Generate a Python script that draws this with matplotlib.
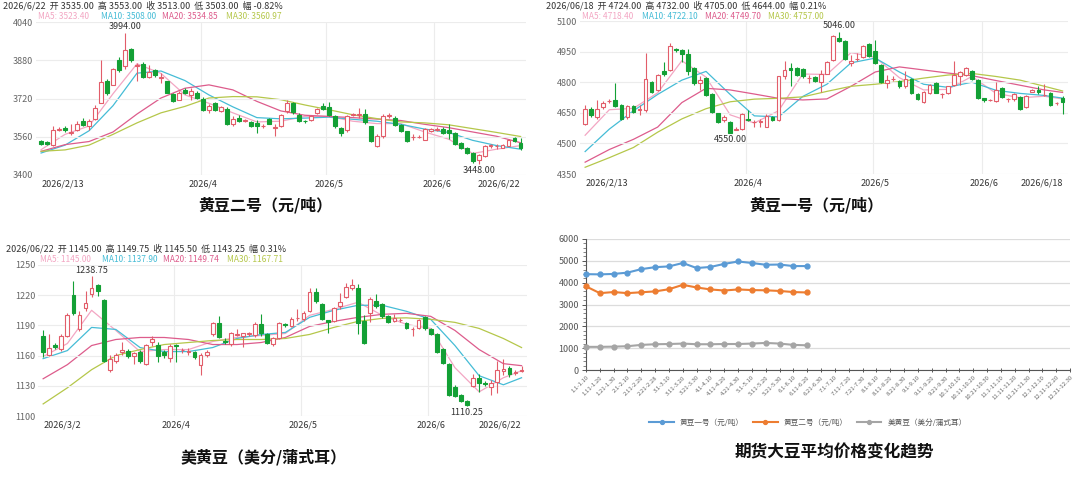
import matplotlib
matplotlib.use('Agg')
import matplotlib.pyplot as plt
from matplotlib.ticker import MultipleLocator

plt.rcParams['font.family'] = ['Noto Sans CJK SC', 'DejaVu Sans']
plt.rcParams['axes.unicode_minus'] = False

# ---------------- 黄豆二号 (daily K line) ----------------
p1_open = [3542, 3538, 3527, 3590, 3598, 3575, 3588, 3625, 3605, 3633,
           3703, 3795, 3777, 3880, 3854, 3925, 3858, 3865, 3812, 3838,
           3805, 3792, 3740, 3715, 3756, 3735, 3742, 3718, 3670, 3702,
           3668, 3678, 3612, 3638, 3627, 3620, 3618, 3603, 3634, 3598,
           3606, 3666, 3700, 3652, 3627, 3631, 3659, 3687, 3684, 3645,
           3596, 3589, 3652, 3652, 3655, 3603, 3523, 3562, 3648, 3638,
           3610, 3582, 3558, 3560, 3548, 3585, 3590, 3594, 3590, 3575,
           3534, 3513, 3492, 3464, 3478, 3522, 3520, 3515, 3523, 3555,
           3535]
p1_close = [3530, 3530, 3590, 3594, 3588, 3580, 3613, 3610, 3625, 3680,
            3791, 3742, 3842, 3838, 3923, 3880, 3862, 3812, 3830, 3820,
            3810, 3745, 3710, 3745, 3742, 3750, 3722, 3672, 3690, 3673,
            3684, 3615, 3634, 3624, 3628, 3606, 3604, 3607, 3615, 3602,
            3652, 3700, 3662, 3624, 3626, 3645, 3676, 3676, 3652, 3603,
            3575, 3645, 3654, 3655, 3620, 3541, 3565, 3648, 3650, 3610,
            3582, 3541, 3560, 3561, 3592, 3592, 3592, 3575, 3575, 3530,
            3513, 3492, 3457, 3485, 3520, 3524, 3522, 3525, 3545, 3541,
            3513]
p1_high = [3548, 3542, 3605, 3600, 3605, 3612, 3625, 3640, 3635, 3694,
           3880, 3800, 3848, 3895, 3994, 3930, 3870, 3873, 3862, 3842,
           3825, 3795, 3745, 3750, 3762, 3765, 3750, 3725, 3695, 3706,
           3690, 3685, 3645, 3650, 3635, 3625, 3630, 3615, 3640, 3612,
           3656, 3712, 3704, 3658, 3632, 3650, 3682, 3700, 3706, 3650,
           3600, 3650, 3660, 3680, 3675, 3607, 3570, 3654, 3660, 3645,
           3614, 3585, 3570, 3566, 3598, 3596, 3600, 3600, 3612, 3580,
           3538, 3516, 3495, 3488, 3524, 3530, 3530, 3530, 3552, 3560,
           3553]
p1_low = [3525, 3525, 3522, 3585, 3578, 3568, 3582, 3605, 3590, 3630,
          3700, 3735, 3775, 3832, 3845, 3872, 3795, 3805, 3805, 3812,
          3785, 3742, 3705, 3712, 3738, 3715, 3718, 3668, 3660, 3668,
          3662, 3610, 3605, 3620, 3620, 3602, 3575, 3595, 3612, 3562,
          3602, 3660, 3655, 3620, 3618, 3626, 3654, 3672, 3648, 3598,
          3565, 3580, 3645, 3640, 3615, 3538, 3518, 3555, 3640, 3605,
          3578, 3538, 3545, 3555, 3545, 3580, 3585, 3570, 3550, 3525,
          3508, 3488, 3452, 3448, 3475, 3515, 3508, 3512, 3520, 3538,
          3503]
p1_ma_x = [0, 4, 8, 12, 16, 20, 24, 28, 32, 36, 40, 44, 48, 52, 56, 60, 64, 68, 72, 76, 80]
p1_ma5 = [3506, 3570, 3605, 3740, 3865, 3825, 3735, 3700, 3660, 3622, 3625,
          3645, 3645, 3625, 3615, 3615, 3580, 3550, 3490, 3508, 3523]
p1_ma10 = [3492, 3525, 3585, 3690, 3826, 3835, 3795, 3735, 3685, 3640, 3635,
           3638, 3642, 3633, 3625, 3612, 3592, 3578, 3545, 3523, 3508]
p1_ma20 = [3499, 3527, 3540, 3580, 3655, 3722, 3763, 3777, 3756, 3708, 3668,
           3650, 3645, 3640, 3634, 3628, 3612, 3598, 3580, 3562, 3535]
p1_ma30 = [3499, 3505, 3525, 3570, 3618, 3660, 3687, 3722, 3728, 3727, 3715,
           3693, 3673, 3652, 3636, 3622, 3618, 3610, 3594, 3578, 3561]
p1_ticks = [0, 27, 48, 66, 80]
p1_ticklabels = ['2026/2/13', '2026/4', '2026/5', '2026/6', '2026/6/22']
p1_yticks = [3400, 3560, 3720, 3880, 4040]
p1_head = ['2026/6/22', '-0.82%']
p1_ma_text = ['3523.40', '3508.00', '3534.85', '3560.97']

# ---------------- 黄豆一号 ----------------
p2_open = [4597, 4671, 4630, 4676, 4706, 4713, 4688, 4627, 4683, 4663,
           4663, 4803, 4762, 4853, 4861, 4963, 4956, 4940, 4869, 4795,
           4820, 4742, 4647, 4617, 4606, 4568, 4573, 4622, 4606, 4606,
           4581, 4627, 4617, 4828, 4869, 4869, 4864, 4820, 4825, 4800,
           4842, 4908, 5018, 5001, 4894, 4912, 4924, 4985, 4952, 4886,
           4798, 4815, 4808, 4779, 4815, 4742, 4704, 4746, 4798, 4742,
           4746, 4787, 4831, 4836, 4853, 4811, 4721, 4713, 4709, 4772,
           4716, 4716, 4729, 4676, 4754, 4762, 4737, 4746, 4696, 4724]
p2_close = [4671, 4639, 4671, 4700, 4709, 4683, 4622, 4683, 4655, 4671,
            4815, 4754, 4836, 4841, 4976, 4956, 4938, 4853, 4795, 4811,
            4737, 4655, 4606, 4630, 4551, 4573, 4643, 4614, 4607, 4608,
            4634, 4617, 4828, 4861, 4861, 4836, 4828, 4822, 4808, 4842,
            4900, 5026, 5001, 4914, 4902, 4914, 4976, 4930, 4894, 4803,
            4811, 4817, 4779, 4815, 4749, 4716, 4754, 4787, 4749, 4744,
            4779, 4836, 4848, 4869, 4815, 4721, 4713, 4714, 4762, 4729,
            4718, 4742, 4671, 4732, 4762, 4754, 4738, 4688, 4697, 4705]
p2_high = [4688, 4676, 4713, 4709, 4720, 4795, 4692, 4690, 4688, 4688,
           4943, 4808, 4841, 4897, 4990, 4968, 4963, 4963, 4875, 4828,
           4825, 4746, 4650, 4638, 4610, 4578, 4650, 4663, 4614, 4622,
           4643, 4632, 4832, 4902, 4894, 4875, 4870, 4836, 4830, 4861,
           4905, 5030, 5046, 5006, 4935, 4943, 4980, 4990, 5006, 4890,
           4836, 4828, 4812, 4853, 4820, 4746, 4758, 4792, 4803, 4746,
           4783, 4902, 4853, 4873, 4858, 4815, 4725, 4718, 4803, 4776,
           4724, 4746, 4732, 4736, 4766, 4779, 4790, 4750, 4702, 4732]
p2_low = [4589, 4630, 4622, 4671, 4699, 4676, 4614, 4620, 4650, 4638,
          4655, 4749, 4758, 4831, 4855, 4950, 4900, 4836, 4787, 4762,
          4730, 4650, 4600, 4606, 4550, 4564, 4568, 4610, 4581, 4581,
          4578, 4610, 4612, 4815, 4779, 4830, 4820, 4795, 4800, 4750,
          4838, 4905, 4995, 4908, 4880, 4905, 4918, 4924, 4890, 4798,
          4770, 4808, 4774, 4770, 4744, 4712, 4700, 4742, 4745, 4721,
          4742, 4782, 4787, 4832, 4810, 4716, 4705, 4706, 4705, 4724,
          4705, 4710, 4666, 4672, 4750, 4740, 4730, 4684, 4690, 4644]
p2_ma_x = [0, 4, 8, 12, 16, 20, 24, 28, 32, 36, 40, 44, 48, 52, 56, 60, 64, 68, 72, 76, 79]
p2_ma5 = [4540, 4665, 4672, 4748, 4905, 4825, 4640, 4600, 4660, 4840, 4838,
          4945, 4922, 4822, 4762, 4765, 4828, 4745, 4724, 4731, 4718]
p2_ma10 = [4460, 4570, 4660, 4740, 4810, 4853, 4740, 4635, 4630, 4730, 4790,
           4895, 4918, 4850, 4790, 4775, 4800, 4760, 4745, 4735, 4722]
p2_ma20 = [4408, 4470, 4520, 4580, 4700, 4770, 4762, 4742, 4721, 4713, 4718,
           4780, 4850, 4875, 4860, 4845, 4832, 4808, 4785, 4762, 4750]
p2_ma30 = [4383, 4430, 4480, 4555, 4620, 4670, 4704, 4717, 4721, 4728, 4755,
           4780, 4790, 4803, 4820, 4835, 4843, 4828, 4810, 4780, 4757]
p2_ticks = [0, 27, 48, 66, 79]
p2_ticklabels = ['2026/2/13', '2026/4', '2026/5', '2026/6', '2026/6/18']
p2_yticks = [4350, 4500, 4650, 4800, 4950, 5100]
p2_head = ['2026/06/18', '0.21%']
p2_ma_text = ['4718.40', '4722.10', '4749.70', '4757.00']

# ---------------- 美黄豆 ----------------
p3_open = [1179, 1161, 1171, 1167, 1179, 1220, 1186, 1207, 1221, 1230,
           1215, 1146, 1155, 1164, 1165, 1160, 1164, 1152, 1174, 1171,
           1164, 1158, 1171, 1166, 1164, 1164, 1151, 1161, 1181, 1192,
           1175, 1172, 1180, 1179, 1181, 1180, 1191, 1181, 1172, 1177,
           1191, 1189, 1197, 1196, 1204, 1223, 1211, 1195, 1194, 1209,
           1218, 1227, 1227, 1194, 1202, 1214, 1211, 1199, 1194, 1195,
           1192, 1186, 1187, 1198, 1186, 1181, 1167, 1152, 1129, 1121,
           1115, 1130, 1138, 1133, 1129, 1134, 1145, 1148, 1143, 1145]
p3_close = [1164, 1168, 1169, 1179, 1200, 1202, 1200, 1212, 1227, 1224,
            1155, 1157, 1161, 1166, 1160, 1163, 1155, 1171, 1176, 1160,
            1161, 1170, 1170, 1166, 1165, 1159, 1161, 1164, 1192, 1178,
            1174, 1182, 1181, 1182, 1182, 1191, 1182, 1173, 1177, 1192,
            1190, 1196, 1197, 1202, 1223, 1214, 1196, 1193, 1207, 1213,
            1228, 1230, 1192, 1173, 1216, 1209, 1199, 1193, 1197, 1195.5,
            1187, 1186, 1195, 1187, 1181, 1164, 1153, 1121, 1120, 1115,
            1111, 1138, 1133, 1132, 1133, 1146, 1147, 1142, 1144, 1145.5]
p3_high = [1185, 1181, 1173, 1181, 1202, 1234, 1204, 1224, 1238.75, 1231,
           1216, 1161, 1163, 1174, 1167, 1164, 1166, 1172, 1179, 1174,
           1166, 1172, 1172, 1168, 1168, 1165, 1163, 1166, 1193, 1199,
           1177, 1183, 1186, 1182, 1183, 1193, 1201, 1182, 1178, 1193,
           1192, 1198, 1206, 1204, 1227, 1227, 1212, 1195, 1208, 1222,
           1232, 1236, 1231, 1200, 1218, 1221, 1212, 1200, 1201, 1197,
           1193, 1188, 1196, 1199, 1187, 1182, 1168, 1153, 1131, 1122,
           1116, 1142, 1142, 1135, 1136, 1155, 1157, 1150, 1146, 1149.75]
p3_low = [1159, 1160, 1167, 1165, 1178, 1200, 1184, 1204, 1218, 1219,
          1154, 1144, 1153, 1161, 1158, 1152, 1153, 1151, 1170, 1154,
          1158, 1154, 1154, 1163, 1161, 1157, 1141, 1159, 1179, 1177,
          1172, 1170, 1179, 1169, 1179, 1178, 1179, 1172, 1170, 1176,
          1188, 1188, 1194, 1194, 1203, 1212, 1195, 1182, 1193, 1206,
          1217, 1225, 1181, 1172, 1193, 1207, 1197, 1192, 1193, 1193,
          1186, 1179, 1186, 1185, 1180, 1163, 1152, 1120, 1119, 1114,
          1110.25, 1129, 1124, 1130, 1121, 1123, 1141, 1139, 1141, 1143.25]
p3_ma_x = [0, 4, 8, 12, 16, 20, 24, 28, 32, 36, 40, 44, 48, 52, 56, 60, 64, 68, 72, 76, 79]
p3_ma5 = [1159, 1172, 1205, 1185, 1164, 1166, 1166, 1174, 1178, 1180, 1182,
          1200, 1206, 1213, 1200, 1191, 1187, 1148, 1124, 1138, 1145]
p3_ma10 = [1157, 1165, 1188, 1186, 1168, 1164, 1164, 1168, 1177, 1181, 1183,
           1198, 1205, 1210, 1210, 1204, 1196, 1170, 1140, 1131, 1138]
p3_ma20 = [1137, 1151, 1170, 1176, 1178, 1178, 1176, 1171, 1171, 1173, 1178,
           1189, 1194, 1198, 1201, 1202, 1199, 1185, 1166, 1152, 1150]
p3_ma30 = [1112, 1128, 1146, 1160, 1166, 1171, 1173, 1175, 1176, 1176, 1177,
           1181, 1188, 1194, 1197, 1197.5, 1196, 1193, 1187, 1177, 1168]
p3_ticks = [0, 22, 43, 64, 79]
p3_ticklabels = ['2026/3/2', '2026/4', '2026/5', '2026/6', '2026/6/22']
p3_yticks = [1100, 1130, 1160, 1190, 1220, 1250]
p3_head = ['2026/06/22', '0.31%']
p3_ma_text = ['1145.00', '1137.90', '1149.74', '1167.71']

# ---------------- 期货大豆平均价格 (every 10 days) ----------------
periods = ['1.1-1.10', '1.11-1.20', '1.21-1.30', '2.1-2.10', '2.11-2.20', '2.21-2.28',
           '3.1-3.10', '3.11-3.20', '3.21-3.30', '4.1-4.10', '4.11-4.20', '4.21-4.30',
           '5.1-5.10', '5.11-5.20', '5.21-5.30', '6.1-6.10', '6.11-6.20', '6.21-6.30',
           '7.1-7.10', '7.11-7.20', '7.21-7.30', '8.1-8.10', '8.11-8.20', '8.21-8.30',
           '9.1-9.10', '9.11-9.20', '9.21-9.30', '10.1-10.10', '10.11-10.20', '10.21-10.30',
           '11.1-11.10', '11.11-11.20', '11.21-11.30', '12.1-12.10', '12.11-12.20', '12.21-12.30']
soy1 = [4390, 4380, 4400, 4460, 4620, 4710, 4745, 4900, 4670, 4720, 4860, 4970,
        4900, 4820, 4830, 4760, 4760]
soy2 = [3830, 3520, 3570, 3520, 3560, 3600, 3700, 3900, 3780, 3690, 3640, 3690,
        3660, 3650, 3620, 3570, 3550]
soy_us = [1060, 1060, 1070, 1090, 1150, 1180, 1190, 1210, 1180, 1180, 1190, 1190,
          1210, 1240, 1210, 1150, 1130]
line_names = ['黄豆一号（元/吨）', '黄豆二号（元/吨）', '美黄豆（美分/蒲式耳）']

RED = '#e25d6a'
GREEN = '#13a035'
MA_COLORS = ['#f3a6c3', '#45bcd6', '#dd5c8c', '#b5c74a']
GRID = '#ececec'

W, H = 1080, 478
fig = plt.figure(figsize=(W / 100, H / 100), dpi=100)


def box(x0, y0, x1, y1):
    # pixel box -> figure fraction
    return [x0 / W, 1 - y1 / H, (x1 - x0) / W, (y1 - y0) / H]


def kline(rect, o, h, l, c, ma_x, mas, ticks, ticklabels, yticks,
          head, ma_text, hx, hy, ma_xs, title, title_xy):
    ax = fig.add_axes(rect)
    for i in range(len(o)):
        up = c[i] >= o[i]
        col = RED if up else GREEN
        ax.vlines(i, l[i], h[i], color=col, lw=0.8, zorder=2)
        ax.bar(i, abs(c[i] - o[i]), bottom=min(o[i], c[i]), width=0.62,
               facecolor='white' if up else col, edgecolor=col, lw=0.8, zorder=3)
    for m, col in zip(mas, MA_COLORS):
        ax.plot(ma_x, m, color=col, lw=0.9, zorder=1.5)

    span = yticks[-1] - yticks[0]
    # highest / lowest labels
    imax = h.index(max(h))
    imin = l.index(min(l))
    ax.text(imax, h[imax] + span * 0.01, f'{h[imax]:.2f}', ha='center',
            va='bottom', fontsize=6.5, color='#333333', zorder=5)
    ax.text(imin, l[imin] - span * 0.015, f'{l[imin]:.2f}', ha='center',
            va='top', fontsize=6.5, color='#333333', zorder=5)

    n = len(o)
    ax.set_xlim(-0.85, n - 0.1)
    ax.set_ylim(yticks[0], yticks[-1])
    ax.set_yticks(yticks)
    ax.grid(axis='y', color=GRID, lw=0.8, zorder=0)
    for t in ticks[1:-1]:
        ax.axvline(t - 0.4, color=GRID, lw=0.8, zorder=0)
    ax.set_xticks(ticks)
    ax.set_xticklabels(ticklabels)
    labs = ax.get_xticklabels()
    labs[0].set_ha('left')
    labs[-1].set_ha('right')
    ax.tick_params(axis='x', length=0, pad=3, labelsize=6.5, labelcolor='#333333')
    ax.tick_params(axis='y', length=0, pad=2, labelsize=6.5, labelcolor='#666666')
    for s in ax.spines.values():
        s.set_visible(False)

    # header lines
    fig.text(hx / W, 1 - hy / H,
             f'{head[0]}  开 {o[-1]:.2f}  高 {h[-1]:.2f}  收 {c[-1]:.2f}  低 {l[-1]:.2f}  幅 {head[1]}',
             fontsize=6.5, color='#333333', va='center')
    for k, (txt, col, xx) in enumerate(zip(ma_text, MA_COLORS, ma_xs)):
        fig.text(xx / W, 1 - (hy + 10.5) / H, f'MA{[5, 10, 20, 30][k]}: {txt}',
                 fontsize=6, color=col, va='center')
    fig.text(title_xy[0] / W, 1 - title_xy[1] / H, title, fontsize=11.5,
             fontweight='bold', ha='center', va='center', color='#111111')
    return ax


kline(box(36, 22, 526, 175), p1_open, p1_high, p1_low, p1_close, p1_ma_x,
      [p1_ma5, p1_ma10, p1_ma20, p1_ma30], p1_ticks, p1_ticklabels, p1_yticks,
      p1_head, p1_ma_text, 3, 6, [38, 101, 162, 226], '黄豆二号（元/吨）', (265, 205))

kline(box(580, 21, 1068, 174), p2_open, p2_high, p2_low, p2_close, p2_ma_x,
      [p2_ma5, p2_ma10, p2_ma20, p2_ma30], p2_ticks, p2_ticklabels, p2_yticks,
      p2_head, p2_ma_text, 546, 6, [582, 642, 705, 768], '黄豆一号（元/吨）', (816, 205))

kline(box(38, 265, 527, 416), p3_open, p3_high, p3_low, p3_close, p3_ma_x,
      [p3_ma5, p3_ma10, p3_ma20, p3_ma30], p3_ticks, p3_ticklabels, p3_yticks,
      p3_head, p3_ma_text, 6, 249, [40, 102, 163, 227], '美黄豆（美分/蒲式耳）', (264, 457))

# ---------------- line chart ----------------
ax4 = fig.add_axes(box(586, 239, 1070, 370))
x = range(len(soy1))
colors = ['#5b9bd5', '#ed7d31', '#a5a5a5']
for ys, col, name in zip([soy1, soy2, soy_us], colors, line_names):
    ax4.plot(x, ys, color=col, lw=1.5, marker='o', ms=3.5, label=name, clip_on=False, zorder=3)
ax4.set_xlim(0, len(periods) - 1)
ax4.set_ylim(0, 6000)
ax4.yaxis.set_major_locator(MultipleLocator(1000))
ax4.yaxis.set_minor_locator(MultipleLocator(200))
ax4.set_xticks(range(len(periods)))
ax4.set_xticklabels(periods, rotation=45, ha='right', va='top', rotation_mode='anchor')
ax4.grid(axis='y', color='#dcdcdc', lw=0.9, zorder=0)
ax4.tick_params(axis='x', length=3, width=0.7, direction='inout', labelsize=4.3,
                labelcolor='#666666', color='#555555', pad=2)
ax4.tick_params(axis='y', which='major', length=3, width=0.7, labelsize=6.5,
                labelcolor='#555555', color='#555555', pad=2)
ax4.tick_params(axis='y', which='minor', length=2, width=0.5, color='#555555')
for s in ['top', 'right']:
    ax4.spines[s].set_visible(False)
for s in ['left', 'bottom']:
    ax4.spines[s].set_color('#555555')
    ax4.spines[s].set_linewidth(0.8)

fig.legend(*ax4.get_legend_handles_labels(), loc='center', bbox_to_anchor=(808 / W, 1 - 423 / H),
           ncol=3, frameon=False, fontsize=5.5, handlelength=3.2, columnspacing=1.2,
           labelcolor='#555555', markerscale=0.8)
fig.text(834 / W, 1 - 452 / H, '期货大豆平均价格变化趋势', fontsize=12, fontweight='bold',
         ha='center', va='center', color='#111111')

fig.savefig('out.png', dpi=100, facecolor='white')
